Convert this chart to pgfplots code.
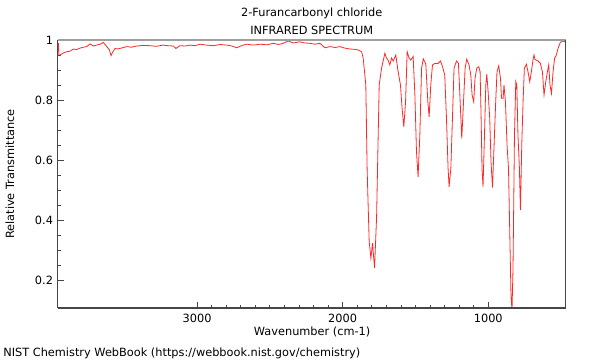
\documentclass[border=0pt]{standalone}
\usepackage{fontspec}
\setmainfont{DejaVu Sans}
\usepackage{pgfplots}
\pgfplotsset{compat=1.18}
\definecolor{spec}{RGB}{255,40,40}
\definecolor{spinedark}{RGB}{70,70,70}
\definecolor{spinelight}{RGB}{160,160,160}
\begin{document}
\begin{tikzpicture}
\useasboundingbox (-43.3pt,-39pt) rectangle (406.7pt,231pt);
\begin{axis}[
  scale only axis,
  width=381pt, height=201pt,
  x dir=reverse,
  xmin=468, xmax=3957,
  ymin=0.107, ymax=1.0,
  xtick={1000,2000,3000},
  ytick={0.2,0.4,0.6,0.8,1},
  yticklabels={0.2,0.4,0.6,0.8,1},
  minor x tick num=9,
  minor y tick num=3,
  xtick pos=bottom, ytick pos=left,
  tick align=inside,
  major tick length=4.5pt,
  minor tick length=2.4pt,
  tick style={spinedark, line width=0.6pt},
  axis line style={draw=none},
  /pgf/number format/assume math mode=true,
  xticklabel style={font=\fontsize{8.5}{10}\selectfont, yshift=-1pt},
  yticklabel style={font=\fontsize{8.5}{10}\selectfont},
  scaled x ticks=false,
  xticklabel={\pgfmathprintnumber[set thousands separator={}]{\tick}},
  clip=true,
]
\addplot[spec, line width=0.6pt] coordinates {
(3952,0.99)(3950,0.95)(3941,0.95)(3918,0.957)(3895,0.961)(3872,0.963)(3850,0.97)(3826,0.968)(3804,0.973)(3780,0.976)(3758,0.978)(3735,0.987)(3712,0.98)(3689,0.983)(3666,0.986)(3644,0.992)(3620,0.978)(3602,0.967)(3591,0.948)(3579,0.96)(3563,0.972)(3546,0.97)(3529,0.972)(3506,0.975)(3483,0.978)(3450,0.976)(3414,0.98)(3370,0.982)(3323,0.981)(3280,0.979)(3232,0.983)(3200,0.981)(3163,0.98)(3145,0.972)(3117,0.981)(3080,0.98)(3049,0.983)(3015,0.981)(2980,0.986)(2935,0.983)(2889,0.981)(2840,0.985)(2797,0.983)(2760,0.98)(2728,0.974)(2690,0.982)(2660,0.986)(2610,0.983)(2568,0.986)(2520,0.984)(2477,0.989)(2440,0.985)(2408,0.989)(2374,0.997)(2340,0.99)(2294,0.994)(2260,0.99)(2225,0.989)(2190,0.986)(2156,0.989)(2122,0.974)(2088,0.978)(2050,0.975)(2019,0.978)(1985,0.973)(1951,0.97)(1920,0.969)(1894,0.967)(1870,0.961)(1859,0.94)(1841,0.85)(1832,0.57)(1818,0.33)(1806,0.273)(1795,0.323)(1781,0.24)(1767,0.41)(1756,0.683)(1749,0.85)(1733,0.906)(1710,0.956)(1699,0.94)(1688,0.933)(1676,0.917)(1664,0.94)(1653,0.93)(1635,0.95)(1619,0.894)(1603,0.85)(1592,0.773)(1580,0.711)(1568,0.794)(1557,0.961)(1544,0.94)(1532,0.933)(1516,0.945)(1504,0.817)(1493,0.628)(1482,0.544)(1470,0.683)(1458,0.906)(1446,0.937)(1429,0.92)(1415,0.794)(1406,0.744)(1395,0.85)(1383,0.917)(1367,0.922)(1345,0.922)(1328,0.93)(1314,0.911)(1299,0.883)(1287,0.739)(1276,0.572)(1269,0.511)(1257,0.572)(1246,0.739)(1235,0.906)(1218,0.93)(1205,0.922)(1196,0.828)(1182,0.672)(1170,0.794)(1159,0.906)(1148,0.936)(1132,0.917)(1120,0.883)(1111,0.817)(1100,0.794)(1091,0.872)(1079,0.906)(1065,0.911)(1056,0.894)(1049,0.739)(1043,0.572)(1036,0.511)(1026,0.683)(1017,0.85)(1010,0.886)(1001,0.828)(990,0.739)(981,0.594)(971,0.508)(960,0.65)(949,0.794)(940,0.894)(928,0.914)(916,0.872)(909,0.806)(898,0.806)(892,0.85)(882,0.794)(871,0.65)(861,0.572)(852,0.35)(844,0.15)(837,0.10)(830,0.24)(820,0.683)(811,0.861)(804,0.85)(796,0.683)(786,0.572)(779,0.433)(770,0.65)(761,0.794)(752,0.906)(738,0.919)(727,0.894)(715,0.861)(704,0.894)(693,0.933)(686,0.95)(679,0.935)(658,0.93)(642,0.922)(628,0.894)(617,0.817)(605,0.861)(594,0.894)(585,0.917)(576,0.85)(566,0.822)(555,0.894)(544,0.94)(532,0.95)(521,0.972)(505,0.992)(487,0.997)(468,0.993)
};
\end{axis}
\draw[spinelight, line width=1.5pt] (0,201pt) -- (381pt,201pt);
\draw[spinedark, line width=0.8pt] (0,0) -- (381pt,0);
\draw[spinedark, line width=0.8pt] (0,0) -- (0,201pt);
\draw[spinedark, line width=0.8pt] (381pt,0) -- (381pt,201pt);
\node[font=\fontsize{8.5}{10}\selectfont] at (190.5pt,221.3pt) {2-Furancarbonyl chloride};
\node[font=\fontsize{8.5}{10}\selectfont] at (190.5pt,208.5pt) {INFRARED SPECTRUM};
\node[font=\fontsize{8.5}{10}\selectfont, rotate=90] at (-35.8pt,100.5pt) {Relative Transmittance};
\node[font=\fontsize{8.5}{10}\selectfont] at (190.8pt,-18pt) {Wavenumber (cm-1)};
\node[font=\fontsize{8.5}{10}\selectfont, anchor=west, inner sep=0pt] at (-41pt,-33.75pt) {NIST Chemistry WebBook (https://webbook.nist.gov/chemistry)};
\end{tikzpicture}
\end{document}
